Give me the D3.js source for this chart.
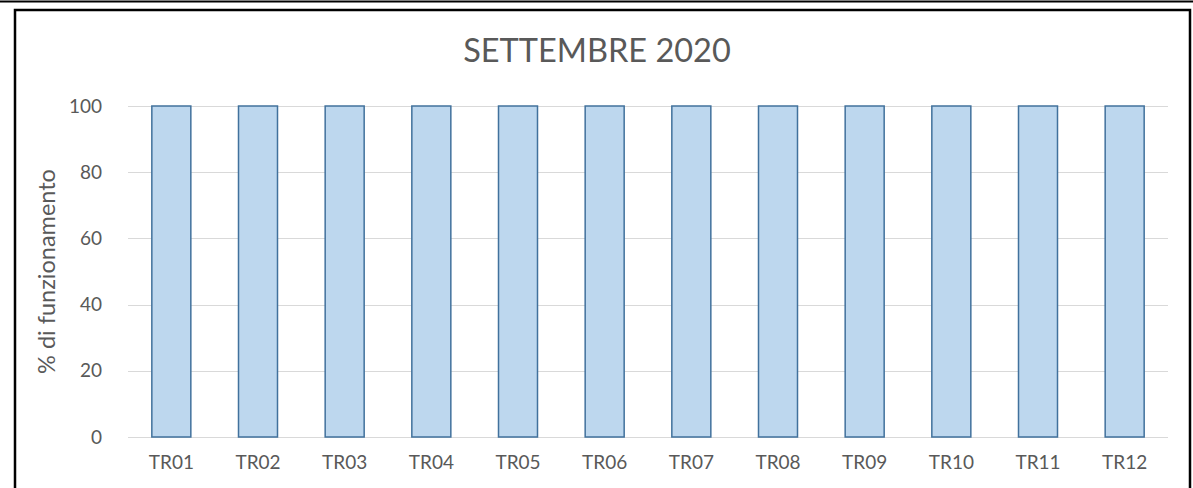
<!DOCTYPE html>
<html>
<head>
<meta charset="utf-8">
<script src="https://cdn.jsdelivr.net/npm/d3@7"></script>
<style>
  body { margin: 0; background: #fff; }
  text { font-family: Lato, "Open Sans", sans-serif; fill: #595959; }
</style>
</head>
<body>
<svg id="chart" width="1193" height="488"></svg>
<script>
var title = "SETTEMBRE 2020";
var yLabel = "% di funzionamento";
var categories = ["TR01", "TR02", "TR03", "TR04", "TR05", "TR06", "TR07", "TR08", "TR09", "TR10", "TR11", "TR12"];
var values = [100, 100, 100, 100, 100, 100, 100, 100, 100, 100, 100, 100];
var yTicks = [0, 20, 40, 60, 80, 100];

var svg = d3.select("#chart");

// frame lines around the chart (screenshot border)
svg.append("line")
    .attr("x1", 0).attr("x2", 1193)
    .attr("y1", 1.5).attr("y2", 1.5)
    .attr("stroke", "#000").attr("stroke-width", 2);
svg.append("path")
    .attr("d", "M15,490 L15,10 L1190,10 L1190,490")
    .attr("fill", "none")
    .attr("stroke", "#000").attr("stroke-width", 2.5);

var plot = { left: 128, right: 1168, top: 106, bottom: 437 };

var x = d3.scaleBand()
    .domain(categories)
    .range([plot.left, plot.right])
    .paddingInner(0.55)
    .paddingOuter(0.275);

var y = d3.scaleLinear()
    .domain([0, 100])
    .range([plot.bottom, plot.top]);

// gridlines
svg.append("g")
    .selectAll("line")
    .data(yTicks)
    .enter()
    .append("line")
    .attr("x1", plot.left)
    .attr("x2", plot.right)
    .attr("y1", d => Math.round(y(d)) + 0.5)
    .attr("y2", d => Math.round(y(d)) + 0.5)
    .attr("stroke", "#d9d9d9")
    .attr("stroke-width", 1);

// bars
svg.append("g")
    .selectAll("rect")
    .data(values)
    .enter()
    .append("rect")
    .attr("x", (d, i) => x(categories[i]))
    .attr("y", d => y(d))
    .attr("width", x.bandwidth())
    .attr("height", d => y(0) - y(d))
    .attr("fill", "#bdd7ee")
    .attr("stroke", "#41719c")
    .attr("stroke-width", 1.5);

// y axis labels
var yAxis = d3.axisLeft(y).tickValues(yTicks).tickSize(0).tickPadding(26);
svg.append("g")
    .attr("transform", `translate(${plot.left},0)`)
    .call(yAxis)
    .call(g => g.select(".domain").remove())
    .selectAll("text")
    .style("font-family", "Lato, 'Open Sans', sans-serif")
    .style("font-size", "19px")
    .attr("fill", "#595959");

// x axis labels
var xAxis = d3.axisBottom(x).tickSize(0).tickPadding(19);
svg.append("g")
    .attr("transform", `translate(0,${plot.bottom})`)
    .call(xAxis)
    .call(g => g.select(".domain").remove())
    .selectAll("text")
    .style("font-family", "Lato, 'Open Sans', sans-serif")
    .style("font-size", "19px")
    .attr("fill", "#595959");

// title
svg.append("text")
    .attr("x", 597)
    .attr("y", 62)
    .attr("text-anchor", "middle")
    .style("font-size", "32.5px")
    .text(title);

// y axis title
svg.append("text")
    .attr("transform", `translate(55,${(plot.top + plot.bottom) / 2}) rotate(-90)`)
    .attr("text-anchor", "middle")
    .style("font-size", "23.5px")
    .text(yLabel);
</script>
</body>
</html>
